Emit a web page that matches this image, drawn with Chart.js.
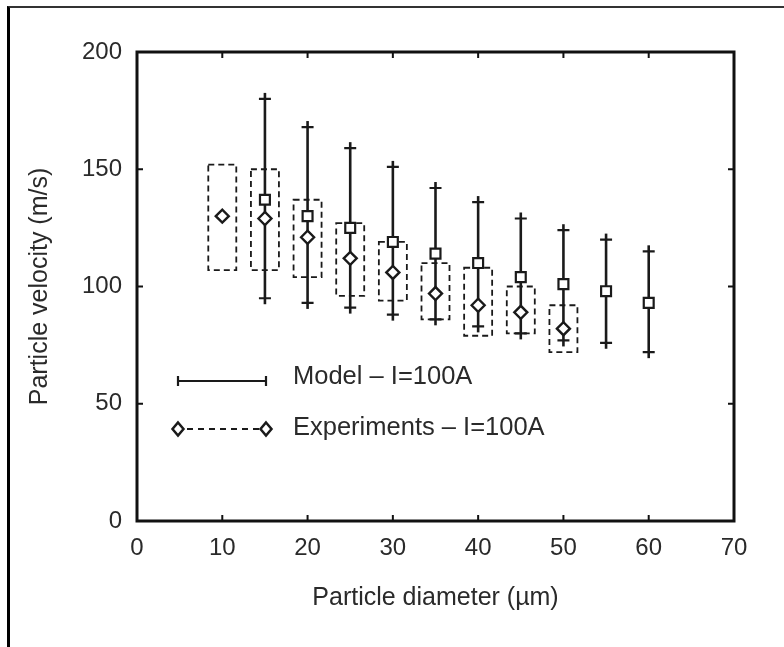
<!DOCTYPE html>
<html>
<head>
<meta charset="utf-8">
<script src="https://cdn.jsdelivr.net/npm/chart.js@4.4.0/dist/chart.umd.min.js"></script>
<style>
    body { margin: 0; background: #fff; }
    #wrap { position: relative; width: 784px; height: 647px; overflow: hidden; }
    #frame { position: absolute; left: 7px; top: 6px; width: 800px; height: 700px;
             border-left: 3px solid #000; border-top: 2px solid #333; }
    #chart { position: absolute; left: 0; top: 0; }
</style>
</head>
<body>
<div id="wrap">
    <div id="frame"></div>
    <canvas id="chart" width="784" height="647"></canvas>
</div>
<script>
// model: mean with min/max whiskers
const modelDiameter = [15, 20, 25, 30, 35, 40, 45, 50, 55, 60]
const modelMean = [137, 130, 125, 119, 114, 110, 104, 101, 98, 93]
const modelHigh = [180, 168, 159, 151, 142, 136, 129, 124, 120, 115]
const modelLow = [95, 93, 91, 88, 86, 83, 80, 77, 76, 72]

// experiments: mean with dashed range box
const expDiameter = [10, 15, 20, 25, 30, 35, 40, 45, 50]
const expMean = [130, 129, 121, 112, 106, 97, 92, 89, 82]
const expHigh = [152, 150, 137, 127, 119, 110, 108, 100, 92]
const expLow = [107, 107, 104, 96, 94, 86, 79, 80, 72]

const xTicks = [0, 10, 20, 30, 40, 50, 60, 70]
const yTicks = [0, 50, 100, 150, 200]

const legendLabels = ['Model \u2013 I=100A', 'Experiments \u2013 I=100A']

const ink = '#1a1a1a'
const textColor = '#2a2a2a'
const fontFamily = '"Liberation Sans", Arial, sans-serif'

const rangesPlugin = {
    id: 'ranges',
    beforeDatasetsDraw(chart) {
        const {ctx, scales: {x, y}} = chart
        ctx.save()
        ctx.strokeStyle = ink

        // dashed boxes for experiments
        ctx.lineWidth = 1.8
        ctx.setLineDash([6, 4])
        expDiameter.forEach((d, i) => {
            const px = x.getPixelForValue(d)
            const top = y.getPixelForValue(expHigh[i])
            const bottom = y.getPixelForValue(expLow[i])
            ctx.strokeRect(px - 14, top, 28, bottom - top)
        })

        // solid whiskers for model
        ctx.setLineDash([])
        modelDiameter.forEach((d, i) => {
            const px = x.getPixelForValue(d)
            const top = y.getPixelForValue(modelHigh[i])
            const bottom = y.getPixelForValue(modelLow[i])
            ctx.lineWidth = 2.6
            ctx.beginPath()
            ctx.moveTo(px, top - 6)
            ctx.lineTo(px, bottom + 6)
            ctx.stroke()
            ctx.lineWidth = 2.2
            ctx.beginPath()
            ctx.moveTo(px - 6, top)
            ctx.lineTo(px + 6, top)
            ctx.moveTo(px - 6, bottom)
            ctx.lineTo(px + 6, bottom)
            ctx.stroke()
        })
        ctx.restore()
    },
    afterDraw(chart) {
        const {ctx, chartArea: a, scales: {x, y}} = chart
        ctx.save()
        ctx.strokeStyle = '#111'

        // inward tick marks on all four sides
        ctx.lineWidth = 2
        ctx.beginPath()
        xTicks.slice(1, -1).forEach(v => {
            const px = x.getPixelForValue(v)
            ctx.moveTo(px, a.bottom)
            ctx.lineTo(px, a.bottom - 6)
            ctx.moveTo(px, a.top)
            ctx.lineTo(px, a.top + 6)
        })
        yTicks.slice(1, -1).forEach(v => {
            const py = y.getPixelForValue(v)
            ctx.moveTo(a.left, py)
            ctx.lineTo(a.left + 6, py)
            ctx.moveTo(a.right, py)
            ctx.lineTo(a.right - 6, py)
        })
        ctx.stroke()

        // frame
        ctx.lineWidth = 3
        ctx.strokeRect(a.left, a.top, a.right - a.left, a.bottom - a.top)

        // legend
        const lx0 = a.left + 41
        const lx1 = a.left + 129
        const row1 = a.top + 329
        const row2 = a.top + 377
        ctx.strokeStyle = ink
        ctx.lineWidth = 2.2
        ctx.beginPath()
        ctx.moveTo(lx0, row1)
        ctx.lineTo(lx1, row1)
        ctx.moveTo(lx0, row1 - 5)
        ctx.lineTo(lx0, row1 + 5)
        ctx.moveTo(lx1, row1 - 5)
        ctx.lineTo(lx1, row1 + 5)
        ctx.stroke()

        ctx.setLineDash([6, 5])
        ctx.beginPath()
        ctx.moveTo(lx0 + 9, row2)
        ctx.lineTo(lx1 - 7, row2)
        ctx.stroke()
        ctx.setLineDash([])
        ctx.lineWidth = 2.5
        ;[lx0, lx1].forEach(px => {
            ctx.beginPath()
            ctx.moveTo(px, row2 - 6.5)
            ctx.lineTo(px + 5.5, row2)
            ctx.lineTo(px, row2 + 6.5)
            ctx.lineTo(px - 5.5, row2)
            ctx.closePath()
            ctx.fillStyle = '#fff'
            ctx.fill()
            ctx.stroke()
        })

        ctx.fillStyle = textColor
        ctx.font = '25.5px ' + fontFamily
        ctx.textBaseline = 'middle'
        ctx.textAlign = 'left'
        ctx.fillText(legendLabels[0], a.left + 156, row1 - 4)
        ctx.fillText(legendLabels[1], a.left + 156, row2 - 1)
        ctx.restore()
    }
}

const ctx = document.getElementById('chart').getContext('2d')
const chart = new Chart(ctx, {
    type: 'scatter',
    data: {
        datasets: [
            {
                label: legendLabels[0],
                data: modelDiameter.map((d, i) => ({x: d, y: modelMean[i]})),
                pointStyle: 'rect',
                pointRadius: 7,
                borderColor: ink,
                backgroundColor: '#fff',
                borderWidth: 2.2,
            },
            {
                label: legendLabels[1],
                data: expDiameter.map((d, i) => ({x: d, y: expMean[i]})),
                pointStyle: 'rectRot',
                pointRadius: 6.5,
                borderColor: ink,
                backgroundColor: '#fff',
                borderWidth: 2.4,
            }
        ]
    },
    options: {
        responsive: false,
        animation: false,
        devicePixelRatio: 1,
        layout: {
            padding: {left: 20, right: 50, top: 52, bottom: 20}
        },
        plugins: {
            legend: {display: false},
            tooltip: {enabled: false}
        },
        scales: {
            x: {
                type: 'linear',
                min: 0,
                max: 70,
                afterBuildTicks: s => { s.ticks = xTicks.map(v => ({value: v})) },
                afterFit: s => { s.height = 106 },
                grid: {display: false, drawTicks: false},
                border: {display: false},
                ticks: {
                    padding: 13,
                    color: textColor,
                    font: {family: fontFamily, size: 24}
                },
                title: {
                    display: true,
                    text: 'Particle diameter (\u00b5m)',
                    color: textColor,
                    font: {family: fontFamily, size: 25},
                    padding: {top: 0, bottom: 14}
                }
            },
            y: {
                min: 0,
                max: 200,
                afterBuildTicks: s => { s.ticks = yTicks.map(v => ({value: v})) },
                afterFit: s => { s.width = 117 },
                grid: {display: false, drawTicks: false},
                border: {display: false},
                ticks: {
                    padding: 15,
                    color: textColor,
                    font: {family: fontFamily, size: 24}
                },
                title: {
                    display: true,
                    text: 'Particle velocity (m/s)',
                    color: textColor,
                    font: {family: fontFamily, size: 25},
                    padding: {top: 5, bottom: 0}
                }
            }
        }
    },
    plugins: [rangesPlugin]
})
</script>
</body>
</html>
